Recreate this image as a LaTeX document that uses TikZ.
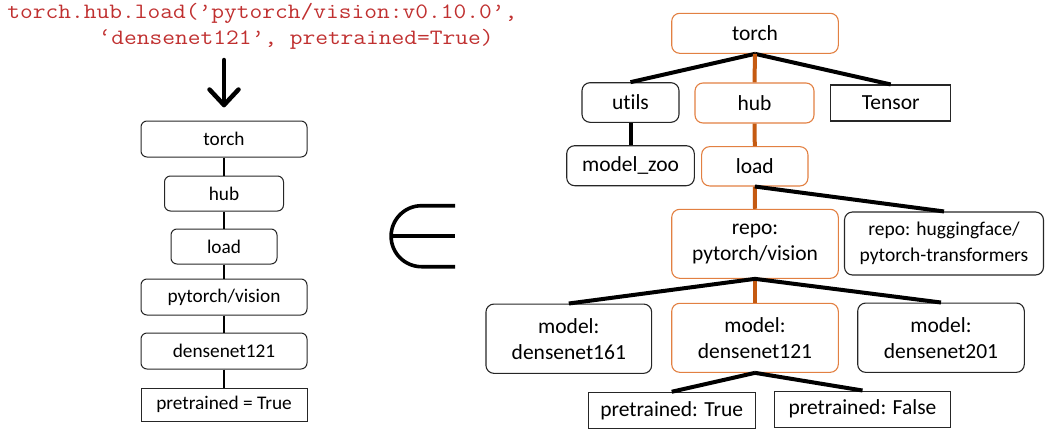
\documentclass[tikz,border=0pt]{standalone}
\usepackage{fontspec}
\usepackage{graphicx}
\setmainfont{Carlito}[Ligatures=NoCommon]
\definecolor{codered}{RGB}{192,48,48}
\definecolor{boxorange}{RGB}{226,128,66}
\definecolor{lineorange}{RGB}{197,90,17}
\newcommand{\codeline}[1]{\scalebox{1.13}[1]{#1}}
\begin{document}
\begin{tikzpicture}[x=1pt,y=-1pt,
  lbox/.style={draw=black!85, line width=1pt, rounded corners=6pt, inner sep=0pt,
    font=\fontsize{19.3}{23}\selectfont},
  rbox/.style={draw=black!85, line width=1.1pt, rounded corners=8pt, inner sep=0pt,
    align=center, font=\fontsize{21.5}{26}\selectfont},
  obox/.style={rbox, draw=boxorange},
  sq/.style={sharp corners},
  code/.style={anchor=base west, inner sep=0pt, text=codered,
    font=\ttfamily\fontsize{21.9}{26}\selectfont},
  thin link/.style={line width=1.5pt, draw=black},
  blk/.style={line width=4pt, draw=black},
  org/.style={line width=4pt, draw=lineorange},
  big arrow/.style={line width=4.5pt, line cap=round, line join=round},
  elem/.style={line width=3.6pt}
]
\useasboundingbox (0,0) rectangle (1045,429);

% code text
\node[code] (code1) at (7.3,18.5) {\codeline{torch.hub.load(’pytorch/vision:v0.10.0’,}};
\node[code] (code2) at (98.4,44.5) {\codeline{‘densenet121’, pretrained=True)}};

% arrow
\coordinate (arrTop) at (224,60);
\coordinate (arrTip) at (224,105);
\coordinate (arrL) at (209.5,89.5);
\coordinate (arrR) at (238.5,89.5);
\draw[big arrow] (arrTop) -- (arrTip);
\draw[big arrow] (arrL) -- (arrTip) -- (arrR);

% left chain
\node[lbox, minimum width=166pt, minimum height=36pt] (Ltorch) at (224,139) {torch};
\node[lbox, minimum width=119pt, minimum height=35pt] (Lhub) at (224,193.5) {hub};
\node[lbox, minimum width=106pt, minimum height=35pt] (Lload) at (224,246.5) {load};
\node[lbox, minimum width=166pt, minimum height=36pt] (Lrepo) at (224,297) {pytorch/vision};
\node[lbox, minimum width=166pt, minimum height=36pt] (Lmodel) at (224,351) {densenet121};
\node[lbox, sq, minimum width=166pt, minimum height=33pt] (Lpre) at (224,404.5) {pretrained = True};
\draw[thin link] (Ltorch) -- (Lhub);
\draw[thin link] (Lhub) -- (Lload);
\draw[thin link] (Lload) -- (Lrepo);
\draw[thin link] (Lrepo) -- (Lmodel);
\draw[thin link] (Lmodel) -- (Lpre);

% element-of symbol
\draw[elem] (455,205.7) -- (421.6,205.7) arc[start angle=90, end angle=270, radius=30.5pt] -- (455,266.7);
\draw[elem] (391.1,236.2) -- (455,236.2);

% right tree
\node[obox, minimum width=166.6pt, minimum height=40pt] (Rtorch) at (755,33.3) {torch};
\node[rbox, minimum width=97pt, minimum height=39.6pt] (Rutils) at (630.5,102.5) {utils};
\node[obox, minimum width=119pt, minimum height=40pt] (Rhub) at (754.5,103) {hub};
\node[rbox, sq, minimum width=120pt, minimum height=36pt] (Rtensor) at (890.7,103) {Tensor};
\node[rbox, minimum width=127.6pt, minimum height=40pt] (Rzoo) at (630.5,165.7) {model\_zoo};
\node[obox, minimum width=106.3pt, minimum height=39.3pt] (Rload) at (754.8,166.3) {load};
\node[obox, minimum width=166.6pt, minimum height=69pt] (Rrepo) at (755,243.8) {repo:\\pytorch/vision};
\node[rbox, minimum width=199pt, minimum height=63pt, font=\fontsize{19.5}{25.6}\selectfont] (Rhf) at (944,243.5) {repo: huggingface/\\pytorch-transformers};
\node[rbox, minimum width=165.7pt, minimum height=69.3pt] (Rm161) at (568.8,338.7) {model:\\densenet161};
\node[obox, minimum width=166.6pt, minimum height=69pt] (Rm121) at (755,337.8) {model:\\densenet121};
\node[rbox, minimum width=166.6pt, minimum height=69.3pt] (Rm201) at (941,337.7) {model:\\densenet201};
\node[rbox, sq, minimum width=166.7pt, minimum height=36pt] (RpT) at (671.7,410.3) {pretrained: True};
\node[rbox, sq, minimum width=176.4pt, minimum height=36.3pt] (RpF) at (862.5,409.2) {pretrained: False};

\draw[blk] (Rtorch.south) -- (Rutils.north);
\draw[blk] (Rtorch.south) -- (Rtensor.north);
\draw[org] (Rtorch.south) -- (Rhub.north);
\draw[blk] (Rutils.south) -- (Rzoo.north);
\draw[org] (Rhub.south) -- (Rload.north);
\draw[org] (Rload.south) -- (Rrepo.north);
\draw[blk] (Rload.south) -- (Rhf.north);
\draw[org] (Rrepo.south) -- (Rm121.north);
\draw[blk] (Rrepo.south) -- (Rm161.north);
\draw[blk] (Rrepo.south) -- (Rm201.north);
\draw[blk] (Rm121.south) -- (RpT.north);
\draw[blk] (Rm121.south) -- (RpF.north);
\end{tikzpicture}
\end{document}
